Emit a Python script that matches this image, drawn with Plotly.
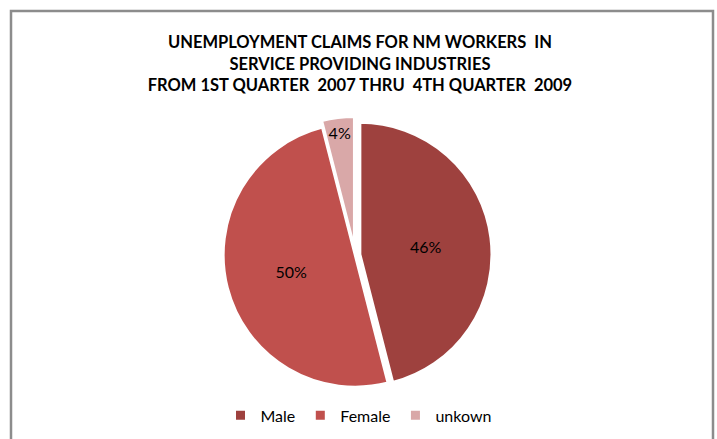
import plotly.graph_objects as go

labels = ["Male", "Female", "unkown"]
values = [46, 50, 4]
colors = ["#9E413E", "#C0504D", "#D9A8A8"]
pulls = [0.035, 0.0, 0.05]

title_lines = [
    "UNEMPLOYMENT CLAIMS FOR NM WORKERS  IN",
    "SERVICE PROVIDING INDUSTRIES",
    "FROM 1ST QUARTER  2007 THRU  4TH QUARTER  2009",
]

fig = go.Figure(go.Pie(
    labels=labels,
    values=values,
    sort=False,
    direction="clockwise",
    rotation=0,
    pull=pulls,
    marker=dict(colors=colors, line=dict(color="white", width=3)),
    textinfo="percent",
    texttemplate="%{percent:.0%}",
    textposition="inside",
    insidetextorientation="horizontal",
    textfont=dict(family="Lato, Open Sans, sans-serif", size=16, color="black"),
    domain=dict(x=[0.302, 0.689], y=[0.103, 0.735]),
    hoverinfo="label+percent",
))

fig.update_layout(
    width=717, height=439,
    margin=dict(l=0, r=0, t=0, b=0),
    paper_bgcolor="white",
    plot_bgcolor="white",
    title=dict(
        text="<br>".join(title_lines),
        x=0.502, xanchor="center",
        y=0.89, yanchor="top",
        font=dict(family="Lato, Open Sans, sans-serif", size=16.5, color="black", weight="bold"),
    ),
    legend=dict(
        orientation="h",
        x=0.5, xanchor="center",
        y=0.015, yanchor="bottom",
        font=dict(family="Lato, Open Sans, sans-serif", size=16, color="black"),
        itemwidth=30,
        traceorder="normal",
    ),
    shapes=[dict(
        type="rect", xref="paper", yref="paper",
        x0=11 / 717, x1=713 / 717, y0=-0.05, y1=1 - 11 / 439,
        line=dict(color="#8C8C8C", width=2.5),
        layer="below",
    )],
)

fig.write_html("out.html")
